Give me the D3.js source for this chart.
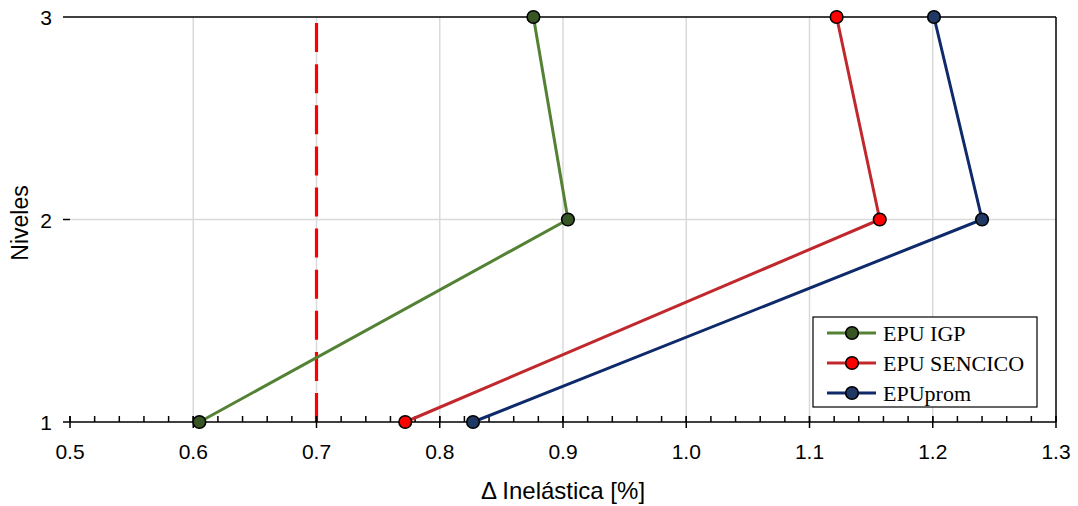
<!DOCTYPE html>
<html><head><meta charset="utf-8">
<script src="https://cdn.jsdelivr.net/npm/d3@7"></script>
<style>body{margin:0;background:#fff}</style>
</head><body><svg id="c" width="1078" height="506"></svg>
<script>
const levels = [1, 2, 3];
const epuIGP = [0.605, 0.904, 0.876];
const epuSENCICO = [0.772, 1.157, 1.122];
const epuProm = [0.827, 1.240, 1.201];
const xTicks = [0.5, 0.6, 0.7, 0.8, 0.9, 1.0, 1.1, 1.2, 1.3];
const limitValue = 0.7;
const seriesNames = ["EPU IGP", "EPU SENCICO", "EPUprom"];

const series = [
  {name: seriesNames[0], vals: epuIGP, line: "#548235", fill: "#375623"},
  {name: seriesNames[1], vals: epuSENCICO, line: "#c0282d", fill: "#ff0000"},
  {name: seriesNames[2], vals: epuProm, line: "#0e2a6b", fill: "#203864"}
];

const sans = "'Liberation Sans', Arial, sans-serif";
const serif = "'Liberation Serif', 'Times New Roman', serif";
const svg = d3.select("#c");
const L = 70, R = 1056, T = 17, B = 422;
const x = d3.scaleLinear().domain([0.5, 1.3]).range([L, R]);
const y = d3.scaleLinear().domain([1, 3]).range([B, T]);

// grid
svg.append("g").selectAll("line").data(xTicks.slice(1, -1)).join("line")
  .attr("x1", d => x(d)).attr("x2", d => x(d)).attr("y1", T).attr("y2", B)
  .attr("stroke", "#d9d9d9").attr("stroke-width", 1.5);
svg.append("g").selectAll("line").data([2]).join("line")
  .attr("x1", L).attr("x2", R).attr("y1", d => y(d)).attr("y2", d => y(d))
  .attr("stroke", "#d9d9d9").attr("stroke-width", 1.5);

// border top/right
svg.append("line").attr("x1", L).attr("x2", R).attr("y1", T).attr("y2", T).attr("stroke", "#000").attr("stroke-width", 1.5);
svg.append("line").attr("x1", R).attr("x2", R).attr("y1", T).attr("y2", B).attr("stroke", "#000").attr("stroke-width", 1.5);

// limit line
svg.append("line").attr("x1", x(limitValue)).attr("x2", x(limitValue))
  .attr("y1", B).attr("y2", T + 5)
  .attr("stroke", "#ff0000").attr("stroke-width", 3.2)
  .attr("stroke-dasharray", "29 12.1");

// x axis
const minor = d3.range(0.5, 1.3001, 0.02);
const xa = svg.append("g");
xa.selectAll("line.mn").data(minor).join("line").attr("class", "mn")
  .attr("x1", d => x(d)).attr("x2", d => x(d)).attr("y1", B - 6).attr("y2", B)
  .attr("stroke", "#000").attr("stroke-width", 1.5);
xa.selectAll("line.mj").data(xTicks).join("line").attr("class", "mj")
  .attr("x1", d => x(d)).attr("x2", d => x(d)).attr("y1", B - 6).attr("y2", B + 6)
  .attr("stroke", "#000").attr("stroke-width", 1.5);
xa.append("line").attr("x1", L).attr("x2", R).attr("y1", B).attr("y2", B).attr("stroke", "#000").attr("stroke-width", 1.5);
xa.selectAll("text").data(xTicks).join("text")
  .attr("x", d => x(d)).attr("y", B + 37).attr("text-anchor", "middle")
  .attr("font-family", sans).attr("font-size", 21)
  .text(d => d3.format(".1f")(d));

// y axis
const ya = svg.append("g");
ya.append("line").attr("x1", L).attr("x2", L).attr("y1", T).attr("y2", B).attr("stroke", "#000").attr("stroke-width", 1.5);
ya.selectAll("line").data(levels).join("line")
  .attr("x1", L - 7).attr("x2", L).attr("y1", d => y(d)).attr("y2", d => y(d))
  .attr("stroke", "#000").attr("stroke-width", 1.5);
ya.selectAll("text").data(levels).join("text")
  .attr("x", L - 18).attr("y", d => y(d) + 8).attr("text-anchor", "end")
  .attr("font-family", sans).attr("font-size", 21)
  .text(d => d);

// axis titles
svg.append("text").attr("x", 563).attr("y", 499).attr("text-anchor", "middle")
  .attr("font-family", sans).attr("font-size", 24)
  .text("Δ Inelástica [%]");
svg.append("text").attr("transform", `translate(28,223) rotate(-90)`)
  .attr("text-anchor", "middle")
  .attr("font-family", sans).attr("font-size", 23)
  .text("Niveles");

// series
const line = d3.line().x(d => x(d[0])).y(d => y(d[1]));
series.forEach(s => {
  const pts = s.vals.map((v, i) => [v, levels[i]]);
  svg.append("path").datum(pts).attr("d", line).attr("fill", "none")
    .attr("stroke", s.line).attr("stroke-width", 3);
  svg.append("g").selectAll("circle").data(pts).join("circle")
    .attr("cx", d => x(d[0])).attr("cy", d => y(d[1])).attr("r", 6.3)
    .attr("fill", s.fill).attr("stroke", "#000").attr("stroke-width", 1.6);
});

// legend
const lg = svg.append("g").attr("transform", "translate(813,317)");
lg.append("rect").attr("width", 224).attr("height", 90).attr("fill", "#fff")
  .attr("stroke", "#000").attr("stroke-width", 1.2);
series.forEach((s, i) => {
  const yy = 16 + i * 30;
  lg.append("line").attr("x1", 14).attr("x2", 63).attr("y1", yy).attr("y2", yy)
    .attr("stroke", s.line).attr("stroke-width", 3);
  lg.append("circle").attr("cx", 39).attr("cy", yy).attr("r", 6.3)
    .attr("fill", s.fill).attr("stroke", "#000").attr("stroke-width", 1.6);
  lg.append("text").attr("x", 70).attr("y", yy + 8)
    .attr("font-family", serif).attr("font-size", 22)
    .text(s.name);
});
</script></body></html>
